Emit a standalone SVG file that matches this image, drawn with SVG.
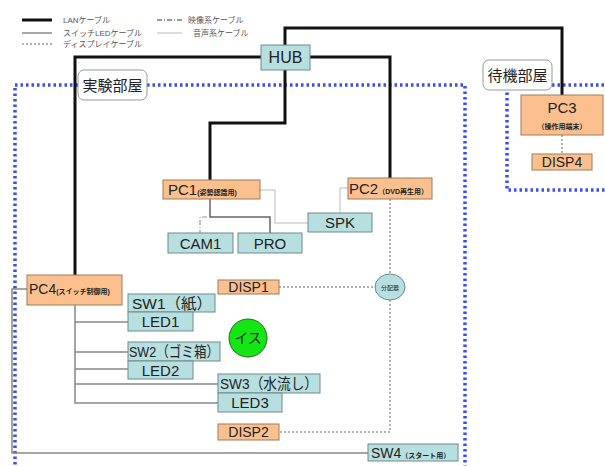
<svg xmlns="http://www.w3.org/2000/svg" width="605" height="466" viewBox="0 0 605 466">
<style>
text{font-family:"Liberation Sans","Noto Sans CJK JP",sans-serif;fill:#222}
.lg{font-size:8px;fill:#555}
.lbl{font-size:15px;text-anchor:middle}
.sm{font-size:7px;font-weight:bold}
.o{fill:#fbc08e;stroke:#a07a5a;stroke-width:1}
.b{fill:#b8dfe0;stroke:#6a8a90;stroke-width:1}
.room{fill:none;stroke:#3a4ef0;stroke-width:3.5;stroke-dasharray:2.5 3}
.rl{fill:#fff;stroke:#999;stroke-width:1}
.lan{fill:none;stroke:#111;stroke-width:3}
.sw{fill:none;stroke:#888;stroke-width:1.5}
.disp{fill:none;stroke:#999;stroke-width:1.5;stroke-dasharray:2 2}
.vid{fill:none;stroke:#999;stroke-width:1.2;stroke-dasharray:5 2 1 2}
.aud{fill:none;stroke:#bbb;stroke-width:1}
</style>
<g id="legend">
<line x1="22" y1="20" x2="52" y2="20" class="lan"/><text x="63" y="23" class="lg">LANケーブル</text>
<line x1="22" y1="33" x2="52" y2="33" class="sw"/><text x="63" y="36" class="lg">スイッチLEDケーブル</text>
<line x1="22" y1="44" x2="52" y2="44" class="disp"/><text x="63" y="47" class="lg">ディスプレイケーブル</text>
<line x1="157" y1="20" x2="182" y2="20" class="vid" style="stroke:#333"/><text x="188" y="23" class="lg">映像系ケーブル</text>
<line x1="157" y1="33" x2="182" y2="33" class="aud"/><text x="193" y="36" class="lg">音声系ケーブル</text>
</g>
<g id="rooms">
<path d="M15,470 V85 H465 V470" class="room"/>
<path d="M610,190 H507 V85 H610" class="room"/>
</g>
<g id="connectors">
<path d="M261,57 H75 V275" class="lan"/>
<path d="M285,45 V28 H562 V95" class="lan"/>
<path d="M310,57 H390 V178" class="lan"/>
<path d="M285,70 V123 H210 V180" class="lan"/>
<path d="M210,199 V217 H270 V233" class="sw" style="stroke:#666"/>
<path d="M207,217 H200 V233" class="vid"/>
<path d="M260,190 H275 V223 H308" class="aud"/>
<path d="M348,188 H340 V213" class="aud"/>
<path d="M390,199 V274" class="disp"/>
<path d="M390,300 V432 H279" class="disp"/>
<path d="M279,287 H375" class="disp"/>
<path d="M562,135 V154" class="disp"/>
<path d="M75,305 V403 H218 M75,322 H128 M75,352 H128 M75,369 H128 M75,384 H218" class="sw"/>
<path d="M27,289 H12 V453 H368" class="sw"/>
</g>
<g id="room-label-1"><rect x="78" y="70" width="69" height="30" rx="6" class="rl"/><text x="112.5" y="91" class="lbl">実験部屋</text></g>
<g id="room-label-2"><rect x="483" y="60" width="69" height="30" rx="6" class="rl"/><text x="517.5" y="81" class="lbl">待機部屋</text></g>
<g id="HUB"><rect x="261" y="45" width="49" height="25" class="b"/><text x="285.5" y="63" class="lbl" style="font-size:16px">HUB</text></g>
<g id="PC1"><rect x="163" y="180" width="97" height="19" class="o"/><text x="168" y="195" style="font-size:15px">PC1<tspan class="sm">(姿勢認識用)</tspan></text></g>
<g id="PC2"><rect x="348" y="178" width="84" height="21" class="o"/><text x="349" y="194" style="font-size:15px">PC2<tspan class="sm">（DVD再生用）</tspan></text></g>
<g id="PC3"><rect x="521" y="95" width="82" height="40" class="o"/><text x="562" y="113" class="lbl">PC3</text><text x="562" y="129" class="sm" text-anchor="middle">（操作用端末）</text></g>
<g id="DISP4"><rect x="532" y="154" width="60" height="16" class="o"/><text x="562" y="167" class="lbl" style="font-size:14px">DISP4</text></g>
<g id="CAM1"><rect x="168" y="233" width="65" height="20" class="b"/><text x="200.5" y="249" class="lbl">CAM1</text></g>
<g id="PRO"><rect x="238" y="233" width="64" height="20" class="b"/><text x="270" y="249" class="lbl">PRO</text></g>
<g id="SPK"><rect x="308" y="213" width="64" height="19" class="b"/><text x="340" y="228" class="lbl">SPK</text></g>
<g id="PC4"><rect x="27" y="275" width="95" height="30" class="o"/><text x="29" y="294" style="font-size:14px">PC4<tspan class="sm">(スイッチ制御用)</tspan></text></g>
<g id="DISP1"><rect x="218" y="280" width="61" height="14" class="o"/><text x="248.5" y="292" class="lbl" style="font-size:14px">DISP1</text></g>
<g id="splitter"><ellipse cx="390" cy="287" rx="15" ry="13" fill="#b8dfe0" stroke="#6a8a90"/><text x="390" y="290" class="sm" text-anchor="middle" style="font-size:6px;font-weight:normal">分配器</text></g>
<g id="SW1"><rect x="128" y="294" width="87" height="18" class="b"/><text x="132" y="309" style="font-size:15px" textLength="80" lengthAdjust="spacingAndGlyphs">SW1（紙）</text></g>
<g id="LED1"><rect x="128" y="312" width="65" height="19" class="b"/><text x="160.5" y="327" class="lbl">LED1</text></g>
<g id="isu"><circle cx="248" cy="338" r="19" fill="#14e614" stroke="#226622" stroke-width="1"/><text x="248" y="343" class="lbl" style="font-size:14px">イス</text></g>
<g id="SW2"><rect x="128" y="342" width="92" height="19" class="b"/><text x="129" y="357" style="font-size:15px" textLength="90" lengthAdjust="spacingAndGlyphs">SW2（ゴミ箱）</text></g>
<g id="LED2"><rect x="128" y="361" width="65" height="18" class="b"/><text x="160.5" y="376" class="lbl">LED2</text></g>
<g id="SW3"><rect x="218" y="374" width="102" height="19" class="b"/><text x="220" y="389" style="font-size:15px" textLength="98" lengthAdjust="spacingAndGlyphs">SW3（水流し）</text></g>
<g id="LED3"><rect x="218" y="393" width="64" height="19" class="b"/><text x="250" y="408" class="lbl">LED3</text></g>
<g id="DISP2"><rect x="218" y="424" width="61" height="16" class="o"/><text x="248.5" y="437" class="lbl" style="font-size:14px">DISP2</text></g>
<g id="SW4"><rect x="368" y="444" width="90" height="17" class="b"/><text x="371" y="458" style="font-size:14px">SW4<tspan class="sm">（スタート用）</tspan></text></g>
</svg>
